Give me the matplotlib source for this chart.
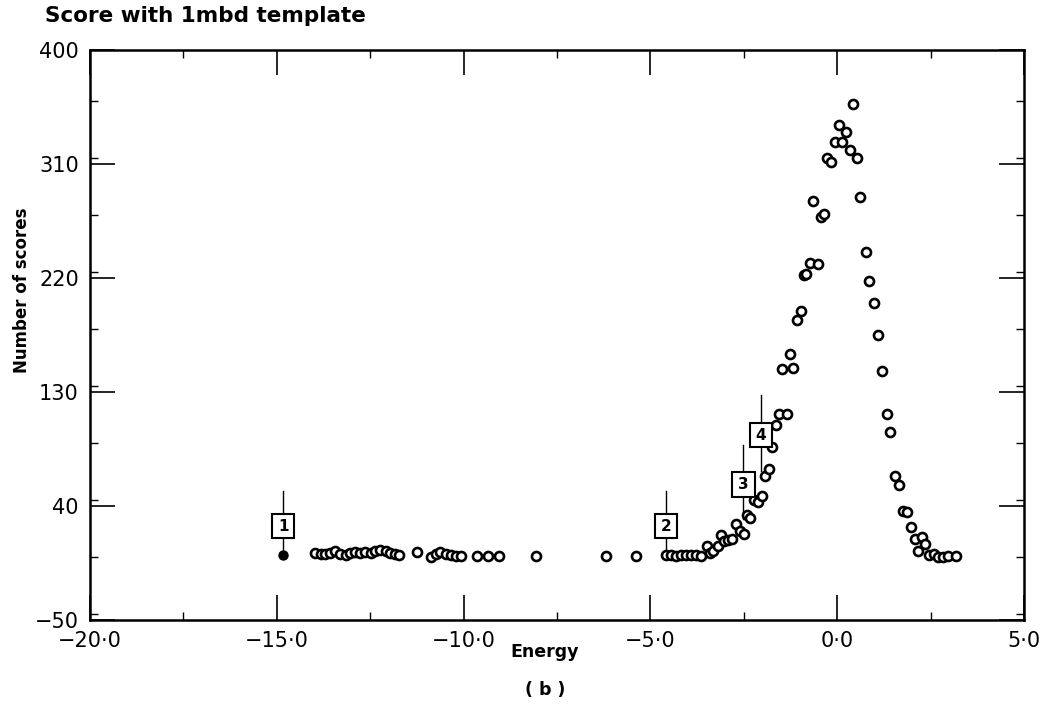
import matplotlib
matplotlib.use("Agg")
import matplotlib.pyplot as plt
from matplotlib.ticker import MultipleLocator, FixedLocator, FixedFormatter
from matplotlib.patches import Rectangle

# ---- data ----
energy = [-13.97, -13.83, -13.70, -13.57, -13.43, -13.30, -13.16, -13.03, -12.90, -12.76,
          -12.63, -12.49, -12.36, -12.23, -12.09, -11.96, -11.83, -11.74, -11.24, -10.88,
          -10.75, -10.62, -10.48, -10.35, -10.21, -10.08, -9.63, -9.36, -9.05, -8.07,
          -6.19, -5.39,
          -4.58, -4.45, -4.32, -4.18, -4.05, -3.91, -3.78, -3.65,
          -3.49, -3.41, -3.33, -3.20, -3.12, -3.02, -2.91, -2.82, -2.72, -2.59,
          -2.50, -2.41, -2.33, -2.22, -2.13, -2.02, -1.93, -1.83, -1.74, -1.65,
          -1.57, -1.35, -1.47, -1.18, -1.27, -1.08, -0.98, -0.88, -0.83, -0.72,
          -0.52, -0.43, -0.36, -0.66, -0.28, -0.16, -0.07, 0.035, 0.13, 0.23,
          0.34, 0.42, 0.54, 0.62, 0.76, 0.85, 0.98, 1.10, 1.21, 1.33,
          1.42, 1.54, 1.65, 1.75, 1.87, 1.97, 2.07, 2.17, 2.27, 2.36,
          2.47, 2.59, 2.71, 2.83, 2.96, 3.17]
scores = [2.8, 1.8, 2.4, 3.2, 4.6, 2.5, 1.3, 3.1, 4.0, 3.2,
          4.0, 3.2, 4.7, 4.9, 4.2, 2.8, 2.4, 1.7, 3.6, 0.0,
          1.9, 3.3, 2.0, 1.5, 0.7, 0.8, 0.3, 0.3, 0.5, 0.8,
          0.6, 0.8,
          1.0, 1.2, 0.8, 1.5, 1.0, 1.0, 1.0, 0.8,
          8.5, 2.7, 4.8, 8.6, 16.8, 12.0, 12.9, 14.0, 25.4, 20.1,
          18.0, 32.6, 30.2, 44.5, 43.5, 47.5, 63.9, 69.2, 86.4, 103.6,
          112.9, 112.9, 148.5, 148.6, 160.0, 187.0, 193.6, 222.2, 223.2, 231.8,
          231.3, 268.5, 270.7, 280.5, 314.9, 311.4, 327.6, 341.1, 327.4, 335.6,
          320.9, 357.1, 314.5, 283.7, 240.9, 217.9, 200.3, 175.0, 146.5, 112.6,
          98.4, 63.8, 56.3, 35.9, 35.3, 23.5, 13.6, 4.3, 15.4, 10.3,
          1.7, 2.5, 0.0, 0.0, 0.3, 0.6]

# the single filled point (marked "1")
marked_energy = [-14.83]
marked_scores = [1.0]

# numbered structure markers
ann_labels = ["1", "2", "3", "4"]
ann_energy = [-14.83, -4.59, -2.51, -2.04]
ann_box_y = [24.0, 24.0, 57.0, 96.0]
ann_line_top = [52.0, 52.0, 88.0, 128.0]
ann_line_bottom = [1.0, 1.0, 30.0, 68.0]

x_ticks = [-20, -15, -10, -5, 0, 5]
x_tick_labels = ["\u221220\u00b70", "\u221215\u00b70", "\u221210\u00b70", "\u22125\u00b70", "0\u00b70", "5\u00b70"]
y_ticks = [-50, 40, 130, 220, 310, 400]
y_tick_labels = ["\u221250", "40", "130", "220", "310", "400"]

title_text = "Score with 1mbd template"
x_label = "Energy"
y_label = "Number of scores"
panel_label = "( b )"

# ---- figure ----
plt.rcParams['font.family'] = ['DejaVu Sans']
fig = plt.figure(figsize=(10.44, 7.27), dpi=100)
ax = fig.add_axes([90 / 1044, 1 - 620 / 727, (1024 - 90) / 1044, (620 - 50) / 727])

ax.set_xlim(-20, 5)
ax.set_ylim(-50, 400)

ax.plot(energy, scores, linestyle='none', marker='o', markersize=6.5,
        markerfacecolor='white', markeredgecolor='black', markeredgewidth=1.9, zorder=3)
ax.plot(marked_energy, marked_scores, linestyle='none', marker='o', markersize=6.5,
        markerfacecolor='black', markeredgecolor='black', zorder=3)

# annotation boxes with stems
bw = 0.6    # box width in energy units
bh = 19.0   # box height in score units
for lab, ex, by, top, bot in zip(ann_labels, ann_energy, ann_box_y, ann_line_top, ann_line_bottom):
    ax.plot([ex, ex], [by + bh / 2, top], color='black', lw=1.0, zorder=2)
    ax.plot([ex, ex], [bot, by - bh / 2], color='black', lw=1.0, zorder=2)
    ax.add_patch(Rectangle((ex - bw / 2, by - bh / 2), bw, bh, facecolor='white',
                           edgecolor='black', lw=1.5, zorder=4))
    ax.text(ex, by, lab, ha='center', va='center', fontsize=11, fontweight='bold', zorder=5)

ax.xaxis.set_major_locator(FixedLocator(x_ticks))
ax.xaxis.set_major_formatter(FixedFormatter(x_tick_labels))
ax.xaxis.set_minor_locator(MultipleLocator(2.5))
ax.yaxis.set_major_locator(FixedLocator(y_ticks))
ax.yaxis.set_major_formatter(FixedFormatter(y_tick_labels))
ax.yaxis.set_minor_locator(MultipleLocator(45))

ax.tick_params(which='major', direction='in', length=18, width=1.2, top=True, right=True,
               labelsize=15, pad=8)
ax.tick_params(which='minor', direction='in', length=6, width=1.0, top=True, right=True)
for s in ax.spines.values():
    s.set_linewidth(1.8)

fig.text(45 / 1044, 1 - 16 / 727, title_text, ha='left', va='center', fontsize=15.5, fontweight='bold')
fig.text(22 / 1044, 1 - 290 / 727, y_label, ha='center', va='center', rotation=90, fontsize=12,
         fontweight='bold')
fig.text(545 / 1044, 1 - 652 / 727, x_label, ha='center', va='center', fontsize=12.5, fontweight='bold')
fig.text(545 / 1044, 1 - 690 / 727, panel_label, ha='center', va='center', fontsize=12.5, fontweight='bold')

fig.savefig("out.png", dpi=100)
